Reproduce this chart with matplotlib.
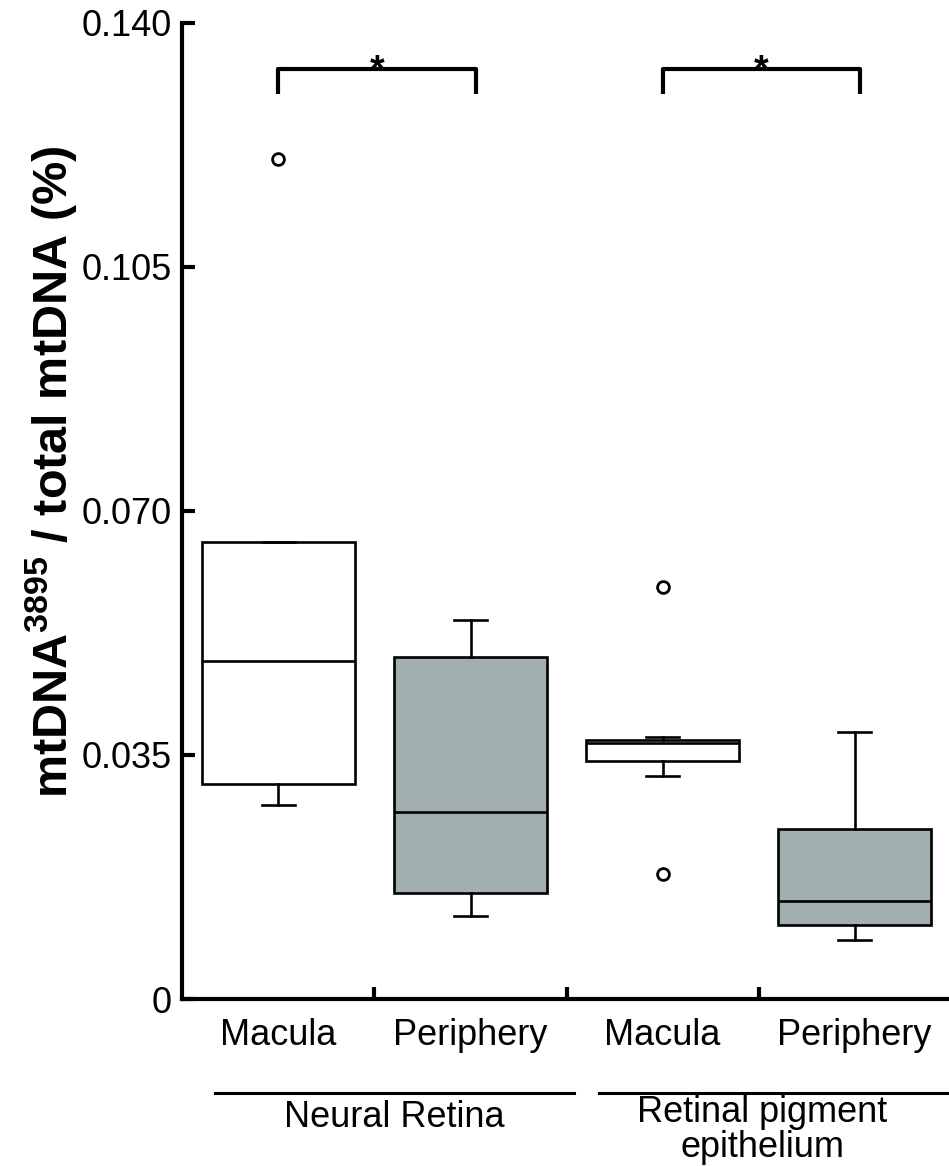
import matplotlib
matplotlib.use("Agg")
import matplotlib.pyplot as plt

plt.rcParams['font.family'] = ['Liberation Sans', 'DejaVu Sans']
plt.rcParams['mathtext.fontset'] = 'custom'
plt.rcParams['mathtext.rm'] = 'Liberation Sans'
plt.rcParams['mathtext.bf'] = 'Liberation Sans:bold'

# box summary values (mtDNA3895 / total mtDNA, %)
tissues = ['Macula', 'Periphery', 'Macula', 'Periphery']
q1 = [0.0309, 0.0152, 0.0341, 0.0106]
medians = [0.0485, 0.0268, 0.0367, 0.0141]
q3 = [0.0655, 0.0490, 0.0371, 0.0244]
whisk_lo = [0.0278, 0.0119, 0.0320, 0.0084]
whisk_hi = [0.0655, 0.0544, 0.0376, 0.0383]
outliers = [[0.1204], [], [0.0591, 0.0180], []]
fills = ['white', '#a1b0ae', 'white', '#a1b0ae']

groups = ['Neural Retina', 'Retinal pigment\nepithelium']
sig_pairs = [(1, 2), (3, 4)]

yticks = [0, 0.035, 0.070, 0.105, 0.140]
ytick_labels = ['0', '0.035', '0.070', '0.105', '0.140']


def main():
    fig = plt.figure(figsize=(9.49, 11.66), dpi=100)
    ax = fig.add_axes([0.1923, 0.1432, 0.8093, 0.8373])

    stats = []
    for i in range(len(tissues)):
        stats.append(dict(med=medians[i], q1=q1[i], q3=q3[i],
                          whislo=whisk_lo[i], whishi=whisk_hi[i],
                          fliers=outliers[i]))

    lw = 1.9
    bp = ax.bxp(stats, positions=[1, 2, 3, 4], widths=0.8, patch_artist=True,
                capwidths=0.17, manage_ticks=False,
                boxprops=dict(linewidth=lw, edgecolor='black'),
                whiskerprops=dict(linewidth=lw, color='black'),
                capprops=dict(linewidth=lw, color='black'),
                medianprops=dict(linewidth=lw, color='black'),
                flierprops=dict(marker='o', markerfacecolor='white',
                                markeredgecolor='black', markersize=8.5,
                                markeredgewidth=2))
    for patch, c in zip(bp['boxes'], fills):
        patch.set_facecolor(c)

    ax.set_xlim(0.5, 4.5)
    ax.set_ylim(0, 0.140)

    for s in ['top', 'right']:
        ax.spines[s].set_visible(False)
    for s in ['left', 'bottom']:
        ax.spines[s].set_linewidth(3)

    ax.set_yticks(yticks)
    ax.set_yticklabels(ytick_labels)
    ax.tick_params(axis='y', direction='in', length=9, width=3, pad=8,
                   labelsize=26)

    ax.set_xticks([1, 2, 3, 4])
    ax.set_xticklabels(tissues)
    ax.set_xticks([1.5, 2.5, 3.5], minor=True)
    ax.tick_params(axis='x', which='major', length=0, pad=14, labelsize=26)
    ax.tick_params(axis='x', which='minor', direction='in', length=9, width=3)

    ax.set_ylabel(r'mtDNA$^{\mathbf{3895}}$ / total mtDNA (%)',
                  fontsize=35, fontweight='bold')
    ax.yaxis.set_label_coords(-0.134, 0.54)

    # significance brackets
    for a, b in sig_pairs:
        x1, x2 = a, b + 0.03
        ax.plot([x1, x1, x2, x2], [0.1298, 0.1333, 0.1333, 0.1298],
                color='black', lw=3, clip_on=False, solid_capstyle='butt')
        ax.text((x1 + x2) / 2, 0.1316, '*', ha='center', va='baseline',
                fontsize=27, fontweight='bold')

    # group labels below the axis
    trans = ax.get_xaxis_transform()
    ax.plot([0.667, 2.54], [-0.0963, -0.0963], color='black', lw=2.2,
            transform=trans, clip_on=False)
    ax.plot([2.667, 4.6], [-0.0963, -0.0963], color='black', lw=2.2,
            transform=trans, clip_on=False)
    ax.text(1.604, -0.1308, groups[0], transform=trans, ha='center',
            va='baseline', fontsize=26)
    ax.text(3.52, -0.162, groups[1], transform=trans, ha='center',
            va='baseline', fontsize=26, linespacing=1.0)

    fig.savefig('out.png', dpi=100)


if __name__ == '__main__':
    main()
